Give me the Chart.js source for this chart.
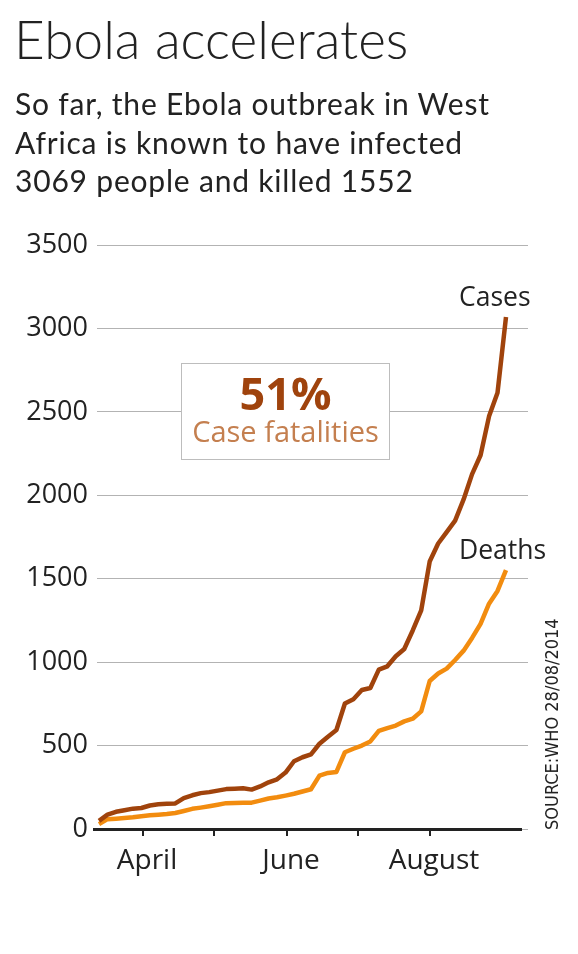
<!DOCTYPE html>
<html>
<head>
<meta charset="utf-8">
<script src="https://cdn.jsdelivr.net/npm/chart.js@4.4.1/dist/chart.umd.min.js"></script>
<style>
html,body{margin:0;padding:0;background:#fff;width:578px;height:954px;overflow:hidden;}
#wrap{position:relative;width:578px;height:954px;}
#chart{position:absolute;left:0;top:0;}
.title{position:absolute;left:14px;top:12px;font-family:Lato,sans-serif;font-weight:300;font-size:53px;line-height:53px;color:#222;white-space:nowrap;}
.sub{position:absolute;left:15px;top:84px;font-family:Lato,sans-serif;font-weight:400;font-size:30px;line-height:38.5px;letter-spacing:0.8px;color:#222;white-space:nowrap;}
.box{position:absolute;left:181px;top:363px;width:207px;height:95px;border:1px solid #bdbdbd;background:#fff;}
.big{position:absolute;left:0;width:207px;top:6px;text-align:center;font-family:"Open Sans",sans-serif;font-weight:700;font-size:45px;line-height:45px;color:#9f430d;}
.small{position:absolute;left:0;width:207px;top:52px;text-align:center;font-family:"Open Sans",sans-serif;font-weight:400;font-size:29px;line-height:29px;color:#c47f4f;}
.src{position:absolute;left:543px;top:830px;transform-origin:0 0;transform:rotate(-90deg);font-family:"Liberation Sans Narrow","DejaVu Sans Condensed",sans-serif;font-size:18px;line-height:18px;color:#222;white-space:nowrap;}
</style>
</head>
<body>
<div id="wrap">
<canvas id="chart" width="578" height="954"></canvas>
<div class="title">Ebola accelerates</div>
<div class="sub">So far, the Ebola outbreak in West<br>Africa is known to have infected<br>3069 people and killed 1552</div>
<div class="box"><div class="big">51%</div><div class="small">Case fatalities</div></div>
<div class="src">SOURCE:WHO 28/08/2014</div>
</div>
<script>
// Cumulative WHO-reported totals, one value per situation report
const cases = [49,86,103,112,122,126,141,148,151,153,185,202,215,221,230,239,241,244,236,255,280,298,338,406,430,447,511,553,593,752,778,833,845,955,975,1035,1079,1190,1310,1603,1711,1779,1848,1975,2127,2240,2473,2615,3069];
const deaths = [29,59,62,66,70,77,82,86,90,96,108,121,128,136,145,155,156,157,158,170,183,190,200,211,225,238,320,336,342,460,481,500,525,588,605,620,645,661,705,887,932,961,1013,1069,1145,1229,1350,1427,1552];
const seriesNames = ["Cases","Deaths"];
// Month tick positions, expressed in report-index units
const tickPositions = [5.19,13.56,22.17,30.55,39.04];
const tickLabels = ["April","","June","","August"];
const yTicks = [0,500,1000,1500,2000,2500,3000,3500];

const toPts = arr => arr.map((v,i)=>({x:i,y:v}));

const axisLine = {
  id:'axisLine',
  beforeDatasetsDraw(chart){
    const {ctx, chartArea} = chart;
    const y = chart.scales.y.getPixelForValue(0);
    ctx.save();
    ctx.strokeStyle = '#222';
    ctx.lineWidth = 3;
    ctx.beginPath();
    ctx.moveTo(chartArea.left-4, y+0.5);
    ctx.lineTo(chartArea.right-6, y+0.5);
    ctx.stroke();
    ctx.restore();
  }
};
const endLabels = {
  id:'endLabels',
  afterDatasetsDraw(chart){
    const ctx = chart.ctx;
    ctx.save();
    ctx.font = '26.5px "Open Sans"';
    ctx.fillStyle = '#222';
    ctx.textAlign = 'left';
    ctx.textBaseline = 'alphabetic';
    chart.data.datasets.forEach((ds,i)=>{
      const meta = chart.getDatasetMeta(i);
      const p = meta.data[meta.data.length-1];
      ctx.fillText(ds.label, p.x-47, p.y-11);
    });
    ctx.restore();
  }
};

new Chart(document.getElementById('chart'), {
  type:'line',
  data:{
    datasets:[
      {label:seriesNames[0], data:toPts(cases), borderColor:'#a0430c', borderWidth:4.5, pointRadius:0, tension:0, borderJoinStyle:'round', fill:false},
      {label:seriesNames[1], data:toPts(deaths), borderColor:'#f28c0f', borderWidth:4.5, pointRadius:0, tension:0, borderJoinStyle:'round', fill:false}
    ]
  },
  options:{
    responsive:false,
    animation:false,
    devicePixelRatio:1,
    layout:{padding:{top:245,right:50,left:0,bottom:0}},
    plugins:{legend:{display:false},tooltip:{enabled:false}},
    elements:{line:{clip:false}},
    scales:{
      x:{
        type:'linear', min:-0.236, max:50.595,
        afterBuildTicks:s=>{ s.ticks = tickPositions.map(v=>({value:v})); },
        afterFit:a=>{ a.height = 125; },
        ticks:{callback:(v,i)=>tickLabels[i], font:{family:'Open Sans',size:28}, color:'#222', padding:8, labelOffset:4, maxRotation:0, autoSkip:false},
        grid:{display:true, drawOnChartArea:false, drawTicks:true, tickLength:7, color:'#222', lineWidth:2},
        border:{display:false}
      },
      y:{
        min:0, max:3500,
        afterBuildTicks:s=>{ s.ticks = yTicks.map(v=>({value:v})); },
        afterFit:a=>{ a.width = 97; },
        ticks:{callback:v=>String(v), font:{family:'Open Sans',size:27}, color:'#222', padding:9},
        grid:{color:'#b3b3b3', lineWidth:1, drawTicks:false},
        border:{display:false}
      }
    }
  },
  plugins:[axisLine,endLabels]
});
</script>
</body>
</html>
